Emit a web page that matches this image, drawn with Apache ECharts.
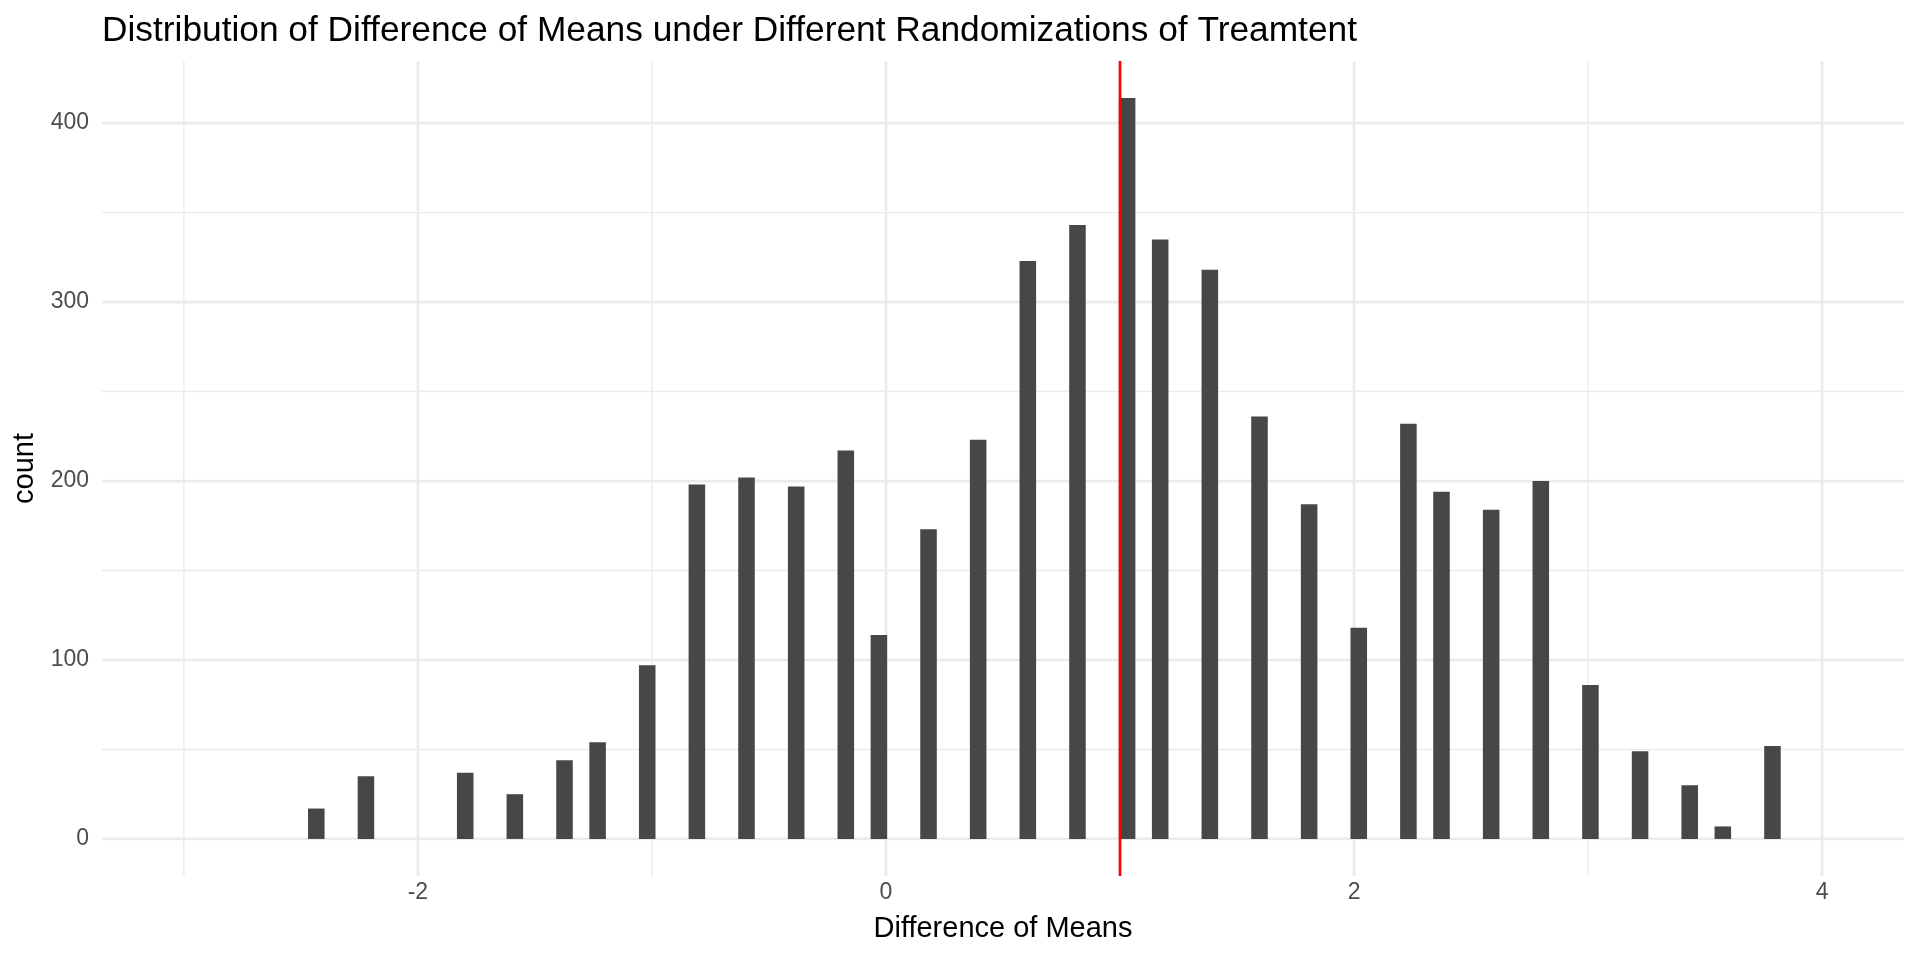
<!DOCTYPE html>
<html>
<head>
<meta charset="utf-8">
<script src="https://cdn.jsdelivr.net/npm/echarts@6/dist/echarts.min.js"></script>
<style>
html,body{margin:0;padding:0;background:#fff;}
#chart{width:1920px;height:960px;}
</style>
</head>
<body>
<div id="chart"></div>
<script>
// Histogram bin centers (bins = 100 over [-3, 4]) and counts
var binCenters = [-2.4343, -2.2222, -1.7980, -1.5859, -1.3737, -1.2323, -1.0202, -0.8081, -0.5960, -0.3838,
                  -0.1717, -0.0303, 0.1818, 0.3939, 0.6061, 0.8182, 1.0303, 1.1717, 1.3838, 1.5960,
                  1.8081, 2.0202, 2.2323, 2.3737, 2.5859, 2.7980, 3.0101, 3.2222, 3.4343, 3.5758, 3.7879];
var counts = [17, 35, 37, 25, 44, 54, 97, 198, 202, 197,
              217, 114, 173, 223, 323, 343, 414, 335, 318, 236,
              187, 118, 232, 194, 184, 200, 86, 49, 30, 7, 52];
var binWidth = 0.070707;
var observedDiff = 1.0;

var xMajorTicks = [-2, 0, 2, 4];
var xMinorTicks = [-3, -1, 1, 3];
var yMajorTicks = [0, 100, 200, 300, 400];
var yMinorTicks = [50, 150, 250, 350];

var titleText = 'Distribution of Difference of Means under Different Randomizations of Treamtent';
var xTitle = 'Difference of Means';
var yTitle = 'count';

var FONT = '"Liberation Sans", Arial, Helvetica, sans-serif';
var GRID_COLOR = '#EBEBEB';

var barData = binCenters.map(function (c, i) { return [c, counts[i]]; });

function vGrid(width) {
  return function (params, api) {
    var x = api.coord([api.value(0), 0])[0];
    var cs = params.coordSys;
    return {
      type: 'line',
      shape: { x1: x, y1: cs.y, x2: x, y2: cs.y + cs.height },
      style: { stroke: GRID_COLOR, lineWidth: width }
    };
  };
}
function hGrid(width) {
  return function (params, api) {
    var y = api.coord([0, api.value(0)])[1];
    var cs = params.coordSys;
    return {
      type: 'line',
      shape: { x1: cs.x, y1: y, x2: cs.x + cs.width, y2: y },
      style: { stroke: GRID_COLOR, lineWidth: width }
    };
  };
}

var chart = echarts.init(document.getElementById('chart'), null, { renderer: 'canvas' });
chart.setOption({
  animation: false,
  backgroundColor: '#ffffff',
  textStyle: { fontFamily: FONT },
  title: {
    text: titleText,
    left: 97,
    top: 9,
    textStyle: { fontFamily: FONT, fontSize: 35.3, fontWeight: 'normal', color: '#000000' }
  },
  grid: { left: 102, right: 16, top: 61, bottom: 84, containLabel: false },
  xAxis: {
    type: 'value',
    min: -3.35,
    max: 4.35,
    name: xTitle,
    nameLocation: 'middle',
    nameGap: 38,
    nameTextStyle: { fontFamily: FONT, fontSize: 29, color: '#000000' },
    axisLine: { show: false },
    axisTick: { show: false },
    splitLine: { show: false },
    axisLabel: {
      customValues: xMajorTicks,
      margin: 5,
      fontFamily: FONT,
      fontSize: 23,
      color: '#4D4D4D'
    }
  },
  yAxis: {
    type: 'value',
    min: -20.7,
    max: 434.7,
    name: yTitle,
    nameLocation: 'middle',
    nameRotate: 90,
    nameGap: 63,
    nameTextStyle: { fontFamily: FONT, fontSize: 29, color: '#000000' },
    axisLine: { show: false },
    axisTick: { show: false },
    splitLine: { show: false },
    axisLabel: {
      customValues: yMajorTicks,
      margin: 13,
      fontFamily: FONT,
      fontSize: 23,
      color: '#4D4D4D'
    }
  },
  series: [
    { type: 'custom', z: 1, silent: true, data: xMinorTicks, encode: { x: 0 }, renderItem: vGrid(1.35) },
    { type: 'custom', z: 1, silent: true, data: yMinorTicks, encode: { y: 0 }, renderItem: hGrid(1.35) },
    { type: 'custom', z: 1, silent: true, data: xMajorTicks, encode: { x: 0 }, renderItem: vGrid(2.7) },
    { type: 'custom', z: 1, silent: true, data: yMajorTicks, encode: { y: 0 }, renderItem: hGrid(2.7) },
    {
      type: 'custom',
      z: 2,
      data: barData,
      encode: { x: 0, y: 1 },
      renderItem: function (params, api) {
        var c = api.value(0), n = api.value(1);
        var p0 = api.coord([c - binWidth / 2, n]);
        var p1 = api.coord([c + binWidth / 2, 0]);
        return {
          type: 'rect',
          shape: { x: p0[0], y: p0[1], width: p1[0] - p0[0], height: p1[1] - p0[1] },
          style: { fill: '#474747' }
        };
      }
    },
    {
      type: 'custom',
      z: 3,
      silent: true,
      data: [observedDiff],
      encode: { x: 0 },
      renderItem: function (params, api) {
        var x = api.coord([api.value(0), 0])[0];
        var cs = params.coordSys;
        return {
          type: 'line',
          shape: { x1: x, y1: cs.y, x2: x, y2: cs.y + cs.height },
          style: { stroke: '#FF0000', lineWidth: 2.7 }
        };
      }
    }
  ]
});
</script>
</body>
</html>
